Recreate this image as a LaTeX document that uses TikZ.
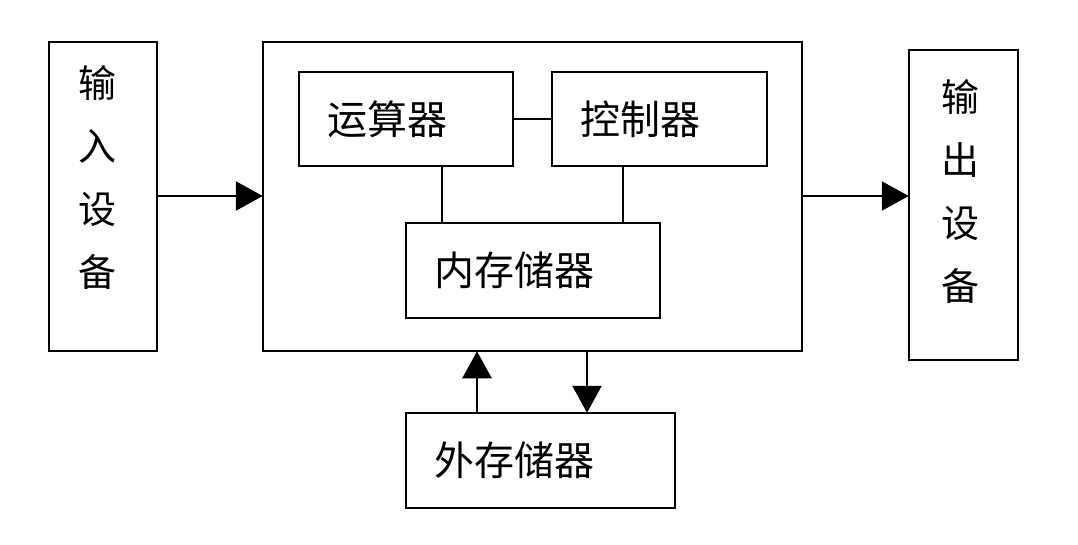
\documentclass[tikz,border=0pt]{standalone}
\usepackage{fontspec}
\setmainfont{Noto Sans CJK SC}
\usetikzlibrary{arrows.meta}
\tikzset{
  box/.style={draw=black, line width=2.5pt, rectangle, inner sep=0pt},
  tbox/.style={box, inner xsep=28pt, align=left, font=\fontsize{40}{48}\selectfont},
  vtext/.style={align=center, inner sep=0pt, font=\fontsize{38}{63}\selectfont},
  conn/.style={line width=2.5pt},
  arr/.style={line width=2.5pt, -{Triangle[length=27pt,width=29pt]}, shorten >=-1pt}
}
\begin{document}
\begin{tikzpicture}[x=1pt,y=-1pt]
\useasboundingbox (0,0) rectangle (1078,544);
\fill[white] (0,0) rectangle (1078,544);
% outer boxes
\node[box, minimum width=108pt, minimum height=309pt] (in) at (103,196.5) {};
\node[vtext] (intext) at (97,177) {输\\入\\设\\备};
\node[box, minimum width=539pt, minimum height=309pt] (main) at (532.5,196.5) {};
\node[box, minimum width=109pt, minimum height=310pt] (out) at (963.5,205) {};
\node[vtext] (outtext) at (960,191) {输\\出\\设\\备};
% inner boxes
\node[tbox, text width=158pt, minimum height=94pt] (alu) at (406,119) {运算器};
\node[tbox, text width=159pt, minimum height=94pt] (cu) at (659.5,119) {控制器};
\node[tbox, text width=198pt, minimum height=95pt] (mem) at (533,270.5) {内存储器};
\node[tbox, text width=213pt, minimum height=95pt] (ext) at (540.5,460.5) {外存储器};
% connectors
\draw[conn] (alu.east) -- (cu.west);
\draw[conn] (alu.south -| 442,0) -- (mem.north -| 442,0);
\draw[conn] (cu.south -| 623,0) -- (mem.north -| 623,0);
\draw[arr] (in.east |- 0,196) -- (main.west |- 0,196);
\draw[arr] (main.east |- 0,196) -- (out.west |- 0,196);
\draw[arr] (ext.north -| 477,0) -- (main.south -| 477,0);
\draw[arr] (main.south -| 587,0) -- (ext.north -| 587,0);
\end{tikzpicture}
\end{document}
